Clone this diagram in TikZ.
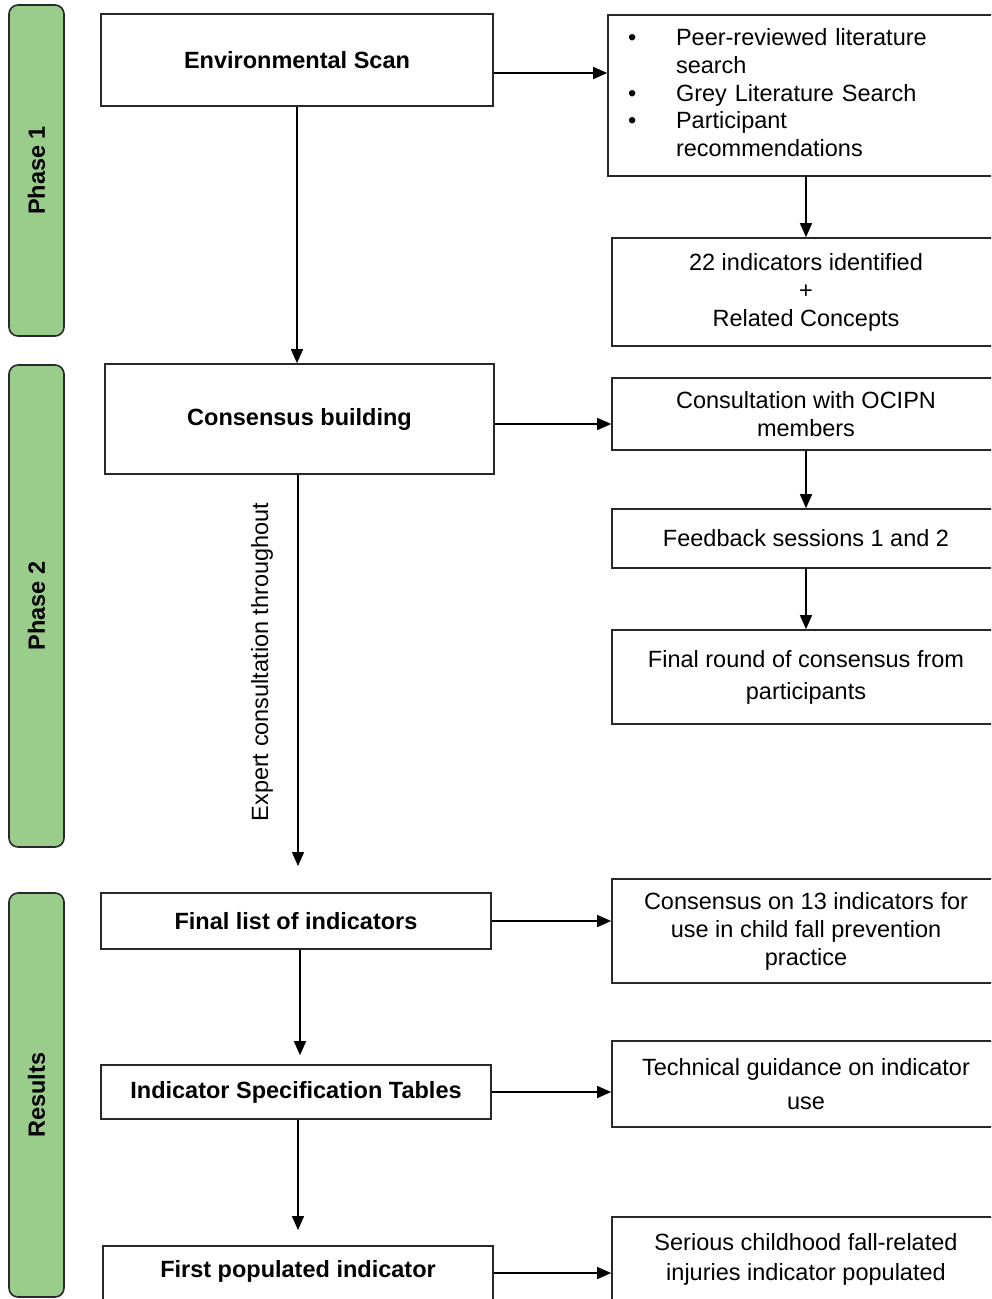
\documentclass[tikz,border=0pt]{standalone}
\usepackage{fontspec}
\setmainfont{Liberation Sans}
\usepackage{xcolor}
\usepackage{tikz}
\usetikzlibrary{arrows.meta, positioning, calc}
\definecolor{phasegreen}{RGB}{154,204,140}
\definecolor{boxline}{RGB}{40,40,40}

\begin{document}
\begin{tikzpicture}[
        x=1pt, y=-1pt,
        phasebar/.style={rectangle, rounded corners=9pt, draw=boxline, fill=phasegreen, line width=1.6pt, inner sep=0pt, minimum height=55pt, rotate=90, font=\fontsize{23.5pt}{28pt}\selectfont\bfseries},
        stage/.style={rectangle, draw=boxline, line width=1.6pt, inner sep=0pt, font=\fontsize{23.5pt}{28pt}\selectfont\bfseries},
        outcome/.style={rectangle, draw=boxline, line width=1.6pt, inner sep=0pt, align=center, minimum width=388pt, font=\fontsize{23.5pt}{28pt}\selectfont},
        flow/.style={-{Triangle[length=14pt,width=12pt]}, line width=1.4pt}
    ]
        \useasboundingbox (0,0) rectangle (991,1299);
        \clip (0,0) rectangle (991,1299);

        % Phase bars
        \node[phasebar, minimum width=331pt] (phase1) at (36.5,170.5) {Phase 1};
        \node[phasebar, minimum width=482pt] (phase2) at (36.5,606) {Phase 2};
        \node[phasebar, minimum width=404pt] (results) at (36.5,1095) {Results};

        % Main steps
        \node[stage, minimum width=392pt, minimum height=92pt] (envscan) at (297,60) {Environmental Scan};
        \node[stage, minimum width=389pt, minimum height=110pt] (consensus) at (299.5,419) {Consensus building};
        \node[stage, minimum width=390pt, minimum height=56pt] (finallist) at (296,921) {Final list of indicators};
        \node[stage, minimum width=390pt, minimum height=54pt] (spectables) at (296,1092) {Indicator Specification Tables};
        \node[stage, anchor=north, minimum width=390pt, text height=32pt, text depth=45pt] (firstpop) at (298,1245) {First populated indicator};

        % Outcomes
        \node[outcome, minimum width=392pt, minimum height=161pt, text width=352pt, align=left,
              font=\fontsize{23.5pt}{27.75pt}\selectfont] (searches) at (804,95.5) {%
            \begin{tabular}{@{}l@{\hspace{39.8pt}}l@{}}
                \textbullet & Peer-reviewed literature\\
                            & search\\
                \textbullet & Grey Literature Search\\
                \textbullet & Participant\\
                            & recommendations
            \end{tabular}};
        \node[outcome, minimum height=108pt] (identified) at (806,292) {22 indicators identified\\+\\Related Concepts};
        \node[outcome, minimum height=72pt] (ocipn) at (806,414) {Consultation with OCIPN\\members};
        \node[outcome, minimum height=59pt] (feedback) at (806,538.5) {Feedback sessions 1 and 2};
        \node[outcome, minimum height=94pt] (finalround) at (806,677) {Final round of consensus from\\[4pt]participants};
        \node[outcome, minimum height=104pt] (thirteen) at (806,931) {Consensus on 13 indicators for\\use in child fall prevention\\practice};
        \node[outcome, minimum height=86pt] (guidance) at (806,1084) {Technical guidance on indicator\\[6pt]use};
        \node[outcome, minimum height=84pt] (populated) at (806,1259) {Serious childhood fall-related\\[2pt]injuries indicator populated};

        % Phase 1 flows
        \draw[flow] ([yshift=-13pt]envscan.east) -- ([yshift=-13pt]envscan.east -| searches.west);
        \draw[flow] (envscan.south) -- (envscan.south |- consensus.north);
        \draw[flow] (searches.south -| identified) -- (identified.north);

        % Phase 2 flows
        \draw[flow] ([yshift=-5pt]consensus.east) -- ([yshift=-5pt]consensus.east -| ocipn.west);
        \draw[flow] (ocipn.south) -- (feedback.north);
        \draw[flow] (feedback.south) -- (finalround.north);
        \coordinate (expertend) at (298,866);
        \draw[flow] (consensus.south -| expertend) -- (expertend);
        \node[rotate=90, font=\fontsize{23.5pt}{28pt}\selectfont] (expertnote) at (262,662) {Expert consultation throughout};

        % Results flows
        \draw[flow] (finallist.east) -- (finallist.east -| thirteen.west);
        \draw[flow, shorten >=9pt] ([xshift=4pt]finallist.south) -- ([xshift=4pt]finallist.south |- spectables.north);
        \draw[flow] (spectables.east) -- (spectables.east -| guidance.west);
        \draw[flow, shorten >=15pt] ([xshift=2pt]spectables.south) -- ([xshift=2pt]spectables.south |- firstpop.north);
        \draw[flow] ([yshift=-28pt]firstpop.north east) -- ([yshift=-28pt]firstpop.north east -| populated.west);
    \end{tikzpicture}
\end{document}
